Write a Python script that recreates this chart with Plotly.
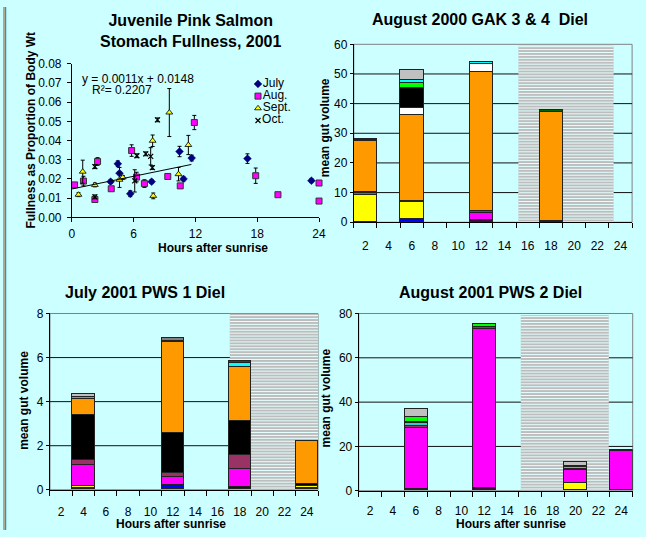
import plotly.graph_objects as go

W, H = 646, 537
BG = "#CCFFFF"
FONT = "Liberation Sans, Arial, sans-serif"

# ---------------- Panel 1: scatter data (hours after sunrise, fullness) ----------------
july_x = [3.76, 4.46, 4.62, 5.67, 7.74, 10.45, 10.84, 11.63, 17.05, 23.26]
july_y = [0.0186, 0.0279, 0.0230, 0.0123, 0.0186, 0.0343, 0.0200, 0.0309, 0.0306, 0.0191]
july_err = [0.001, 0.0015, 0.003, 0.0015, 0.001, 0.0027, 0.001, 0.0015, 0.0025, 0.001]

aug_x = [0.26, 1.12, 2.23, 2.49, 3.82, 5.80, 6.28, 7.04, 9.31, 10.52, 11.89, 17.85, 20.01, 24.0, 24.0]
aug_y = [0.0169, 0.0189, 0.0093, 0.0291, 0.0149, 0.0348, 0.0210, 0.0176, 0.0213, 0.0164, 0.0494,
         0.0217, 0.0118, 0.0179, 0.0085]
aug_err = [0.001, 0.0025, 0.001, 0.002, 0.001, 0.003, 0.0025, 0.002, 0.0015, 0.001, 0.0037,
           0.004, 0.001, 0.001, 0.001]

sept_x = [0.64, 1.05, 2.23, 4.62, 4.94, 7.84, 7.90, 9.46, 10.35, 11.31]
sept_y = [0.0118, 0.0238, 0.0169, 0.0196, 0.0208, 0.0399, 0.0112, 0.0546, 0.0225, 0.0377]
sept_err = [0.001, 0.006, 0.001, 0.004, 0.001, 0.003, 0.0015, 0.0125, 0.0035, 0.005]

oct_x = [2.23, 2.23, 6.10, 6.31, 7.17, 7.65, 7.81, 8.31]
oct_y = [0.0264, 0.0107, 0.0190, 0.0321, 0.0331, 0.0318, 0.0259, 0.0508]
oct_err = [0.001, 0.001, 0.0058, 0.001, 0.001, 0.0045, 0.001, 0.001]

trend_slope = 0.0011
trend_intercept = 0.0148
trend_x = [0, 11.6]
trend_label = "y = 0.0011x + 0.0148"
r2_label = "R\u00b2= 0.2207"
scatter_xticks = [0, 6, 12, 18, 24]
month_names = ["July", "Aug.", "Sept.", "Oct."]

# ---------------- Bar panels (mean gut volume by prey layer) ----------------
hour_ticks = list(range(2, 25, 2))
cat_edges = list(range(1, 26, 2))

gak_hours = [2, 6, 12, 18]
gak_blue = [0, 1.1, 0, 0]
gak_dark = [0, 0, 0.5, 0.3]
gak_yellow = [9.1, 5.5, 0, 0]
gak_magenta = [0.6, 0, 2.4, 0]
gak_purple = [0.3, 0.6, 0.9, 0]
gak_orange = [17.2, 28.7, 46.9, 36.8]
gak_white = [0, 2.4, 2.7, 0]
gak_black = [0, 6.9, 0, 0]
gak_green = [0.4, 1.7, 0, 0]
gak_cyan = [0, 1.0, 0.7, 0]
gak_darkgreen = [0.5, 0, 0, 0.6]
gak_gray = [0, 3.3, 0, 0]
gak_night = [15.2, 23.4, -0.5, 59.5]
gak_yticks = [0, 10, 20, 30, 40, 50, 60]

pws1_hours = [4, 12, 18, 24]
pws1_blue = [0, 0.19, 0, 0]
pws1_dark = [0.06, 0, 0.09, 0.08]
pws1_yellow = [0.10, 0, 0, 0.07]
pws1_magenta = [0.95, 0.37, 0.84, 0]
pws1_purple = [0.22, 0.19, 0.62, 0]
pws1_black = [2.06, 1.80, 1.56, 0.07]
pws1_orange = [0.70, 4.12, 2.43, 1.96]
pws1_white = [0.03, 0, 0.03, 0]
pws1_cyan = [0, 0, 0.17, 0]
pws1_green = [0.06, 0, 0, 0]
pws1_darkgreen = [0, 0.07, 0.10, 0.02]
pws1_darkgray = [0, 0.12, 0, 0]
pws1_gray = [0.13, 0, 0, 0]
pws1_night = [17.1, 25.0, 0, 8]
pws1_yticks = [0, 2, 4, 6, 8]

pws2_hours = [6, 12, 20, 24]
pws2_dark = [0.4, 1.0, 0, 0]
pws2_yellow = [0, 0, 3.1, 0]
pws2_magenta = [27.8, 71.9, 6.0, 17.8]
pws2_purple = [0.7, 0.6, 0.5, 0.3]
pws2_teal = [1.4, 0, 1.0, 0]
pws2_black = [0.3, 0, 0.5, 0]
pws2_green = [2.4, 1.6, 0, 0]
pws2_gray = [3.6, 0, 1.5, 0]
pws2_night = [15.2, 22.9, 0, 79.2]
pws2_yticks = [0, 20, 40, 60, 80]

PALETTE = {
    "blue": "#0000FF", "dark": "#330033", "yellow": "#FFFF00", "magenta": "#FF00FF",
    "purple": "#993366", "orange": "#FF9900", "white": "#FFFFFF", "black": "#000000",
    "green": "#00FF00", "cyan": "#00FFFF", "teal": "#33CCCC", "darkgreen": "#006600",
    "darkgray": "#808080", "gray": "#C0C0C0",
}

gak_stack = [("blue", gak_blue), ("dark", gak_dark), ("yellow", gak_yellow), ("magenta", gak_magenta),
             ("purple", gak_purple), ("orange", gak_orange), ("white", gak_white), ("black", gak_black),
             ("green", gak_green), ("cyan", gak_cyan), ("darkgreen", gak_darkgreen), ("gray", gak_gray)]
pws1_stack = [("blue", pws1_blue), ("dark", pws1_dark), ("yellow", pws1_yellow), ("magenta", pws1_magenta),
              ("purple", pws1_purple), ("black", pws1_black), ("orange", pws1_orange), ("white", pws1_white),
              ("cyan", pws1_cyan), ("green", pws1_green), ("darkgreen", pws1_darkgreen),
              ("darkgray", pws1_darkgray), ("gray", pws1_gray)]
pws2_stack = [("dark", pws2_dark), ("yellow", pws2_yellow), ("magenta", pws2_magenta), ("purple", pws2_purple),
              ("teal", pws2_teal), ("black", pws2_black), ("green", pws2_green), ("gray", pws2_gray)]


def fx(p):
    return p / W


def fy(p):
    return 1 - p / H


fig = go.Figure()

# ---- scatter panel ----
series = [
    (july_x, july_y, july_err, dict(symbol="diamond", size=6, color="#000080", line=dict(color="#000080", width=0.5))),
    (aug_x, aug_y, aug_err, dict(symbol="square", size=6, color="#FF00FF", line=dict(color="#333333", width=1))),
    (sept_x, sept_y, sept_err, dict(symbol="triangle-up", size=6, color="#FFFF00", line=dict(color="#000000", width=0.8))),
    (oct_x, oct_y, oct_err, dict(symbol="x-thin", size=5, color="#000000", line=dict(color="#000000", width=1.2))),
]
for xs, ys, es, mk in series:
    fig.add_trace(go.Scatter(
        x=xs, y=ys, mode="markers", marker=mk, cliponaxis=False,
        error_y=dict(type="data", array=es, color="black", thickness=1, width=2),
        xaxis="x", yaxis="y", showlegend=False, hoverinfo="skip"))

fig.add_trace(go.Scatter(
    x=trend_x, y=[trend_slope * v + trend_intercept for v in trend_x], mode="lines",
    line=dict(color="black", width=1), xaxis="x", yaxis="y", showlegend=False, hoverinfo="skip"))

# legend keys on their own small axis
for i, (_, _, _, mk) in enumerate(series):
    fig.add_trace(go.Scatter(
        x=[7], y=[i], mode="markers+text", marker=mk, text=[month_names[i]],
        textposition="middle right", textfont=dict(size=12, color="black", family=FONT),
        xaxis="x5", yaxis="y5", showlegend=False, hoverinfo="skip", cliponaxis=False))

# ---- bar panels ----
bar_panels = [
    ("x2", "y2", gak_hours, gak_stack, gak_night, gak_yticks),
    ("x3", "y3", pws1_hours, pws1_stack, pws1_night, pws1_yticks),
    ("x4", "y4", pws2_hours, pws2_stack, pws2_night, pws2_yticks),
]
for xa, ya, hours, stack, night, yt in bar_panels:
    for name, vals in stack:
        fig.add_trace(go.Bar(
            x=hours, y=vals, width=[2] * len(hours),
            marker=dict(color=PALETTE[name], line=dict(color="#222222", width=1)),
            xaxis=xa, yaxis=ya, showlegend=False, hoverinfo="skip"))

shapes = []
# night shading (gray with light horizontal stripes), gridlines, plot frame
panel_px_height = {"y2": 221 - 38.3, "y3": 495.7 - 314.7, "y4": 496.7 - 314.7}
for xa, ya, hours, stack, night, yt in bar_panels:
    x0, x1, y0, y1 = night
    shapes.append(dict(type="rect", xref=xa, yref=ya, x0=x0, x1=x1, y0=y0, y1=y1,
                       fillcolor="#BDBDBD", line=dict(width=0), layer="below"))
    step = 3 * (yt[-1] - yt[0]) / panel_px_height[ya]
    path = ""
    yy = y0 + step * 0.6
    while yy < y1:
        path += f"M{x0},{yy:.4f}L{x1},{yy:.4f}"
        yy += step
    shapes.append(dict(type="path", path=path, xref=xa, yref=ya,
                       line=dict(color="#E4FFFF", width=1), layer="below"))
    shapes.append(dict(type="rect", xref=f"{xa} domain", yref=f"{ya} domain", x0=0, x1=1, y0=0, y1=1,
                       line=dict(color="#808080", width=1), layer="below"))
    for v in yt[1:-1]:
        shapes.append(dict(type="line", xref=f"{xa} domain", yref=ya, x0=0, x1=1, y0=v, y1=v,
                           line=dict(color="#111111", width=1), layer="below"))

# slide border stripes on the left edge
shapes.append(dict(type="rect", xref="paper", yref="paper", x0=0, x1=fx(1.7), y0=0, y1=1,
                   fillcolor="#F39A2C", line=dict(width=0), layer="above"))
shapes.append(dict(type="rect", xref="paper", yref="paper", x0=fx(1.7), x1=fx(3.3), y0=0, y1=1,
                   fillcolor="#2E8FD0", line=dict(width=0), layer="above"))


def ann(text, x, y, size=12, bold=False, angle=0, xanchor="center"):
    return dict(text=f"<b>{text}</b>" if bold else text, x=fx(x), y=fy(y), xref="paper", yref="paper",
                showarrow=False, textangle=angle, xanchor=xanchor, yanchor="middle",
                font=dict(family=FONT, size=size, color="black"))


annotations = [
    ann("Juvenile Pink Salmon<br>Stomach Fullness, 2001", 191, 24.5, size=16, bold=True),
    ann("August 2000 GAK 3 &amp; 4  Diel", 484.3, 12.7, size=16, bold=True),
    ann("July 2001 PWS 1 Diel", 144.2, 293, size=16, bold=True),
    ann("August 2001 PWS 2 Diel", 494.7, 293, size=16, bold=True),
    ann("Fullness as Proportion of Body Wt", 28.3, 126, size=12, bold=True, angle=-90),
    ann("Hours after sunrise", 213, 247, size=12, bold=True),
    ann("mean gut volume", 326.5, 124, size=12, bold=True, angle=-90),
    ann("mean gut volume", 21.7, 404, size=12, bold=True, angle=-90),
    ann("Hours after sunrise", 171, 530.7, size=12, bold=True),
    ann("mean gut volume", 328, 401, size=12, bold=True, angle=-90),
    ann("Hours after sunrise", 516, 531, size=12, bold=True),
    ann(trend_label, 136.7, 74, size=12),
    ann(r2_label, 121, 85.5, size=12),
]

tickfont = dict(family=FONT, size=12, color="black")


def bar_xaxis(dom, anchor, standoff):
    return dict(domain=dom, anchor=anchor, range=[1, 25], tickmode="array", tickvals=hour_ticks,
                ticks="", showline=True, linecolor="black", linewidth=1, showgrid=False, zeroline=False,
                tickfont=tickfont, ticklabelstandoff=standoff,
                minor=dict(tickmode="array", tickvals=cat_edges, ticks="outside", ticklen=5,
                           tickcolor="black", tickwidth=1, showgrid=False))


def bar_yaxis(dom, anchor, yt):
    return dict(domain=dom, anchor=anchor, range=[yt[0], yt[-1]], tickmode="array", tickvals=yt,
                ticks="outside", ticklen=3, tickcolor="black", showline=True, linecolor="black",
                linewidth=1, showgrid=False, zeroline=False, tickfont=tickfont, ticklabelstandoff=0)


fig.update_layout(
    width=W, height=H, margin=dict(l=0, r=0, t=0, b=0),
    paper_bgcolor=BG, plot_bgcolor="rgba(0,0,0,0)",
    barmode="stack", bargap=0, showlegend=False,
    font=dict(family=FONT, size=12, color="black"),
    xaxis=dict(domain=[fx(70), fx(321)], anchor="y", range=[0, 24], tickmode="array",
               tickvals=scatter_xticks, ticks="outside", ticklen=4, tickcolor="black",
               showline=True, linecolor="black", showgrid=False, zeroline=False,
               tickfont=tickfont, ticklabelstandoff=1),
    yaxis=dict(domain=[fy(216), fy(58.3)], anchor="x", range=[0, 0.08], dtick=0.01, tickformat=".2f",
               ticks="outside", ticklen=4, tickcolor="black", showline=True, linecolor="black",
               showgrid=False, zeroline=False, tickfont=tickfont, ticklabelstandoff=3),
    xaxis2=bar_xaxis([fx(356.3), fx(639)], "y2", 12),
    yaxis2=bar_yaxis([fy(221), fy(38.3)], "x2", gak_yticks),
    xaxis3=bar_xaxis([fx(47.7), fx(320)], "y3", 11),
    yaxis3=bar_yaxis([fy(495.7), fy(314.7)], "x3", pws1_yticks),
    xaxis4=bar_xaxis([fx(361.3), fx(639.6)], "y4", 9),
    yaxis4=bar_yaxis([fy(496.7), fy(314.7)], "x4", pws2_yticks),
    xaxis5=dict(domain=[fx(252), fx(320)], anchor="y5", range=[0, 68], visible=False),
    yaxis5=dict(domain=[fy(122.75), fy(72.75)], anchor="x5", range=[3.5, -0.5], visible=False),
    shapes=shapes, annotations=annotations,
)

fig.write_html("out.html", config={"displayModeBar": False},
               post_script="document.body.style.margin='0px';document.body.style.padding='0px';document.body.style.overflow='hidden';")
